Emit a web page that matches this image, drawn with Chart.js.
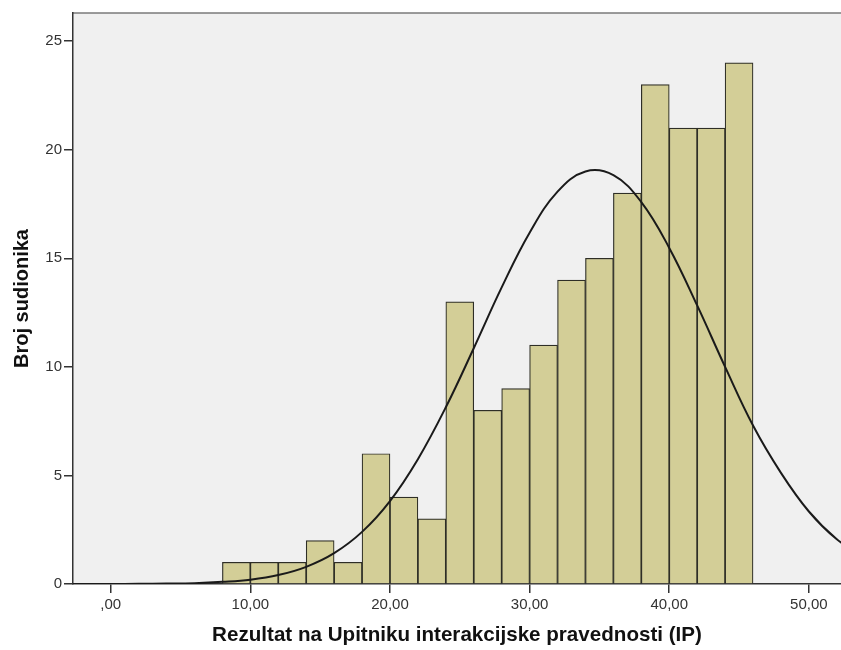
<!DOCTYPE html>
<html>
<head>
<meta charset="utf-8">
<script src="https://cdn.jsdelivr.net/npm/chart.js@4/dist/chart.umd.min.js"></script>
<style>
  html, body { margin: 0; padding: 0; background: #ffffff; }
  #wrap { width: 841px; height: 650px; }
</style>
</head>
<body>
<div id="wrap"><canvas id="c" width="841" height="650"></canvas></div>
<script>
// Histogram bins (centre of each 2-unit bin) and counts
const binCenters = [9, 11, 13, 15, 17, 19, 21, 23, 25, 27, 29, 31, 33, 35, 37, 39, 41, 43, 45];
const binCounts  = [1, 1, 1, 2, 1, 6, 4, 3, 13, 8, 9, 11, 14, 15, 18, 23, 21, 21, 24];

// Normal curve points
const curveX = [-4, -2, 0, 2, 4, 6, 8, 10, 12, 14, 16, 18, 20, 22, 24, 26, 28, 30, 32, 34, 36, 38, 40, 42, 44, 46, 48, 50, 52, 54];
const curveY = [0.0, 0.0, 0.0, 0.01, 0.02, 0.04, 0.1, 0.2, 0.41, 0.79, 1.42, 2.4, 3.82, 5.75, 8.14, 10.86, 13.66, 16.18, 18.07, 19.0, 18.83, 17.59, 15.48, 12.83, 10.0, 7.3, 5.12, 3.34, 2.06, 1.2];

// Axis ticks
const xTickValues = [0, 10, 20, 30, 40, 50];
const xTickLabels = [',00', '10,00', '20,00', '30,00', '40,00', '50,00'];
const yTickValues = [0, 5, 10, 15, 20, 25];
const yTickLabels = ['0', '5', '10', '15', '20', '25'];

const xTitle = 'Rezultat na Upitniku interakcijske pravednosti (IP)';
const yTitle = 'Broj sudionika';

const barData = binCenters.map((x, i) => ({ x: x, y: binCounts[i] }));
const curveData = curveX.map((x, i) => ({ x: x, y: curveY[i] }));

const plotBg = {
  id: 'plotBg',
  beforeDraw(chart) {
    const { ctx, chartArea: a } = chart;
    ctx.save();
    ctx.fillStyle = '#f0f0f0';
    ctx.fillRect(a.left, a.top, a.right - a.left, a.bottom - a.top);
    ctx.strokeStyle = '#7a7a7a';
    ctx.lineWidth = 1.5;
    ctx.beginPath();
    ctx.moveTo(a.left, a.top);
    ctx.lineTo(a.right, a.top);
    ctx.stroke();
    ctx.restore();
  }
};

const tickFont = { family: "'Liberation Sans', Arial, sans-serif", size: 15 };
const titleFont = { family: "'Liberation Sans', Arial, sans-serif", size: 20.6, weight: 'bold' };

new Chart(document.getElementById('c'), {
  type: 'bar',
  data: {
    datasets: [
      {
        type: 'line',
        data: curveData,
        borderColor: '#1a1a1a',
        borderWidth: 2,
        pointRadius: 0,
        tension: 0.4,
        fill: false,
        order: 0
      },
      {
        type: 'bar',
        data: barData,
        backgroundColor: '#d3ce97',
        borderColor: '#2e2e26',
        borderWidth: 1.2,
        barPercentage: 1,
        categoryPercentage: 1,
        order: 1
      }
    ]
  },
  plugins: [plotBg],
  options: {
    responsive: false,
    animation: false,
    layout: { padding: { top: 13, right: 0, left: 0, bottom: 0 } },
    plugins: { legend: { display: false }, tooltip: { enabled: false } },
    scales: {
      x: {
        type: 'linear',
        min: -2.7,
        max: 52.3,
        offset: false,
        afterBuildTicks(scale) { scale.ticks = xTickValues.map(v => ({ value: v })); },
        afterFit(scale) { scale.height = 66; },
        ticks: {
          color: '#333333',
          font: tickFont,
          padding: 3,
          maxRotation: 0,
          callback: (v) => { const i = xTickValues.indexOf(v); return i >= 0 ? xTickLabels[i] : ''; }
        },
        grid: { offset: false, drawOnChartArea: false, drawTicks: true, tickLength: 9, color: '#333333', lineWidth: 1.5 },
        border: { display: true, color: '#333333', width: 1.5 },
        title: { display: true, text: xTitle, color: '#111111', font: titleFont, padding: { top: 0, bottom: 2 } }
      },
      y: {
        type: 'linear',
        min: 0,
        max: 26.3,
        afterBuildTicks(scale) { scale.ticks = yTickValues.map(v => ({ value: v })); },
        afterFit(scale) { scale.width = 73; },
        ticks: {
          color: '#333333',
          font: tickFont,
          padding: 2,
          callback: (v) => { const i = yTickValues.indexOf(v); return i >= 0 ? yTickLabels[i] : ''; }
        },
        grid: { drawOnChartArea: false, drawTicks: true, tickLength: 9, color: '#333333', lineWidth: 1.5 },
        border: { display: true, color: '#333333', width: 1.5 },
        title: { display: true, text: yTitle, color: '#111111', font: { family: "'Liberation Sans', Arial, sans-serif", size: 20, weight: 'bold' }, padding: { top: 10, bottom: 0 } }
      }
    }
  }
});
</script>
</body>
</html>
